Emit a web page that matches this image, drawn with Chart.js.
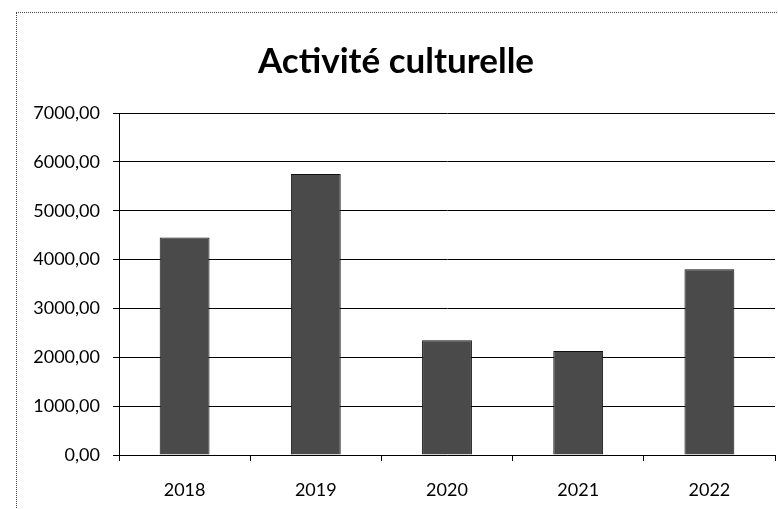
<!DOCTYPE html>
<html>
<head>
<meta charset="utf-8">
<script src="https://cdn.jsdelivr.net/npm/chart.js@4.4.0/dist/chart.umd.min.js"></script>
<style>
  body { margin: 0; background: #fff; }
  #frame {
    position: absolute; left: 16px; top: 12px;
    width: 762px; height: 497px;
    border-left: 1px dotted #444; border-top: 1px dotted #444;
  }
  #chart { display: block; }
</style>
</head>
<body>
<div id="frame"><canvas id="chart" width="761" height="496"></canvas></div>
<script>
const years = ["2018", "2019", "2020", "2021", "2022"];
const values = [4450, 5750, 2350, 2130, 3800];
const yTicks = [0, 1000, 2000, 3000, 4000, 5000, 6000, 7000];

// nombres à la française : 7000,00
const fmt = v => v.toFixed(2).replace(".", ",");

new Chart(document.getElementById("chart"), {
  type: "bar",
  data: {
    labels: years,
    datasets: [{
      data: values,
      backgroundColor: "#4a4a4a",
      borderColor: "#111",
      borderWidth: 1,
      categoryPercentage: 1,
      barPercentage: 0.38
    }]
  },
  options: {
    responsive: false,
    animation: false,
    layout: { padding: { right: 3, bottom: 0 } },
    plugins: {
      legend: { display: false },
      tooltip: { enabled: false },
      title: {
        display: true,
        text: "Activité culturelle",
        color: "#000",
        font: { family: "Lato", size: 35, weight: "bold" },
        padding: { top: 28, bottom: 30 }
      }
    },
    scales: {
      y: {
        min: 0,
        max: 7000,
        afterBuildTicks: s => { s.ticks = yTicks.map(v => ({ value: v })); },
        afterFit: s => { s.width = 102; },
        border: { color: "#000", width: 1 },
        grid: { color: "#000", lineWidth: 1, tickLength: 6 },
        ticks: {
          color: "#000",
          font: { family: "Lato", size: 18 },
          padding: 13,
          callback: v => fmt(v)
        }
      },
      x: {
        afterFit: s => { s.height = 54; },
        border: { color: "#000", width: 1 },
        grid: { color: "#000", drawOnChartArea: false, tickLength: 6, offset: true },
        ticks: {
          color: "#000",
          font: { family: "Lato", size: 18 },
          padding: 18
        }
      }
    }
  }
});
</script>
</body>
</html>
